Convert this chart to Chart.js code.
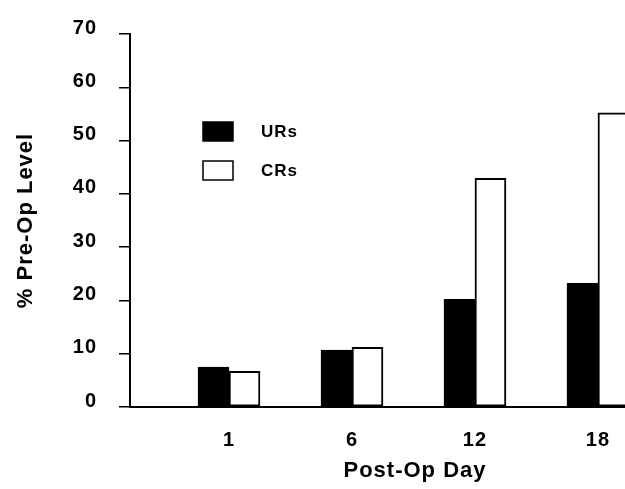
<!DOCTYPE html>
<html>
<head>
    <meta charset="UTF-8">
    <title>% Pre-Op Level by Post-Op Day</title>
    <script src="https://cdn.jsdelivr.net/npm/chart.js"></script>
    <style>
        html, body {
            margin: 0;
            padding: 0;
            background: white;
            overflow: hidden;
        }
        .chart-box {
            position: absolute;
            left: 0;
            top: 0;
            width: 715px;
            height: 489px;
        }
    </style>
</head>
<body>
    <div class="chart-box">
        <canvas id="dayChart"></canvas>
    </div>

<script>
// data
const days = ['1', '6', '12', '18'];
const urValues = [7.5, 10.7, 20.2, 23.2];
const crValues = [6.7, 11.2, 42.9, 55.2];
const yTicks = [0, 10, 20, 30, 40, 50, 60, 70];

const FONT = "'Liberation Sans', Arial, sans-serif";

// letter spacing so the bold text matches the wide scanned type
function setSpacing(chart) {
    chart.ctx.letterSpacing = '1px';
}
const spacingPlugin = {
    id: 'spacing',
    beforeLayout: setSpacing,
    beforeDraw: setSpacing
};

// legend drawn inside the plot, left of the bars
const boxLegend = {
    id: 'boxLegend',
    afterDraw(chart) {
        const ctx = chart.ctx;
        const area = chart.chartArea;
        ctx.save();
        ctx.letterSpacing = '1px';
        chart.data.datasets.forEach((ds, i) => {
            const x = area.left + 73;
            const y = area.top + 88 + i * 39;
            ctx.fillStyle = ds.backgroundColor;
            ctx.fillRect(x, y, 30, 19);
            ctx.strokeStyle = '#000';
            ctx.lineWidth = 1.5;
            ctx.strokeRect(x, y, 30, 19);
            ctx.fillStyle = '#000';
            ctx.font = 'bold 17px ' + FONT;
            ctx.textBaseline = 'middle';
            ctx.fillText(ds.label, x + 58, y + 10);
        });
        ctx.restore();
    }
};

Chart.defaults.color = '#000';
Chart.defaults.font.family = FONT;

function createChart() {
    new Chart(document.getElementById('dayChart'), {
        type: 'bar',
        data: {
            datasets: [
                {
                    label: 'URs',
                    data: urValues.map((v, i) => ({ x: i + 1, y: v })),
                    backgroundColor: '#000',
                    borderColor: '#000',
                    borderWidth: 2,
                    barThickness: 31
                },
                {
                    label: 'CRs',
                    data: crValues.map((v, i) => ({ x: i + 1, y: v })),
                    backgroundColor: '#fff',
                    borderColor: '#000',
                    borderWidth: 2,
                    borderSkipped: false,
                    barThickness: 31
                }
            ]
        },
        options: {
            responsive: true,
            maintainAspectRatio: false,
            animation: false,
            layout: { padding: { top: 33, right: 15, left: 0, bottom: 0 } },
            plugins: {
                legend: { display: false },
                tooltip: { enabled: false }
            },
            scales: {
                x: {
                    type: 'linear',
                    offset: false,
                    min: 0.195,
                    max: 4.83,
                    afterBuildTicks: s => { s.ticks = days.map((d, i) => ({ value: i + 1 })); },
                    afterFit: s => { s.height = 82; },
                    grid: { display: false, offset: false },
                    border: { display: true, color: '#000', width: 2 },
                    ticks: {
                        callback: v => days[v - 1],
                        padding: 13,
                        maxRotation: 0,
                        font: { size: 20, weight: 'bold' }
                    },
                    title: {
                        display: true,
                        text: 'Post-Op Day',
                        padding: { top: 0, bottom: 5 },
                        font: { size: 22, weight: 'bold' }
                    }
                },
                y: {
                    min: 0,
                    max: 70,
                    afterBuildTicks: s => { s.ticks = yTicks.map(v => ({ value: v })); },
                    afterFit: s => { s.width = 130; },
                    grid: {
                        drawOnChartArea: false,
                        drawTicks: true,
                        tickLength: 11,
                        color: '#000',
                        lineWidth: 1.5
                    },
                    border: { display: true, color: '#000', width: 2 },
                    ticks: {
                        padding: 22,
                        labelOffset: -6,
                        font: { size: 20, weight: 'bold' }
                    },
                    title: {
                        display: true,
                        text: '% Pre-Op Level',
                        padding: { top: 13, bottom: 0 },
                        font: { size: 22, weight: 'bold' }
                    }
                }
            }
        },
        plugins: [spacingPlugin, boxLegend]
    });
}

window.onload = createChart;
</script>
</body>
</html>
